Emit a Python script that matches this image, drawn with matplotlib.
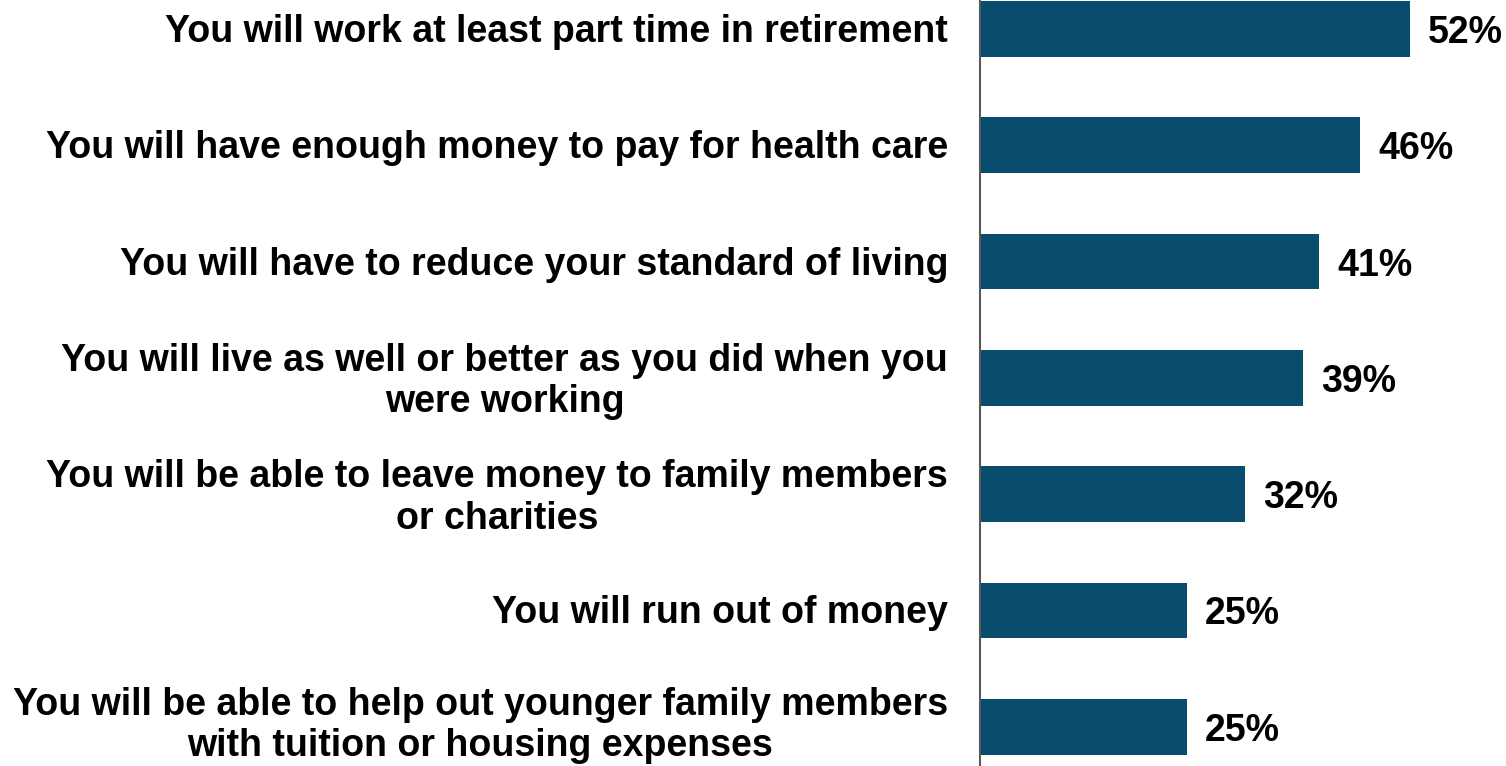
import matplotlib.pyplot as plt
from matplotlib.transforms import blended_transform_factory, ScaledTranslation

# --- data ---
labels = [
    "You will work at least part time in retirement",
    "You will have enough money to pay for health care",
    "You will have to reduce your standard of living",
    "You will live as well or better as you did when you\nwere working",
    "You will be able to leave money to family members\nor charities",
    "You will run out of money",
    "You will be able to help out younger family members\nwith tuition or housing expenses",
]
values = [52, 46, 41, 39, 32, 25, 25]

BAR_COLOR = "#084D6E"
plt.rcParams['font.family'] = ['Liberation Sans', 'DejaVu Sans']

fig = plt.figure(figsize=(15.06, 7.66), dpi=100)
ax = fig.add_axes([980 / 1506, 0, 526 / 1506, 1])

ypos = list(range(len(values)))
ax.barh(ypos, values, height=0.48, color=BAR_COLOR)

ax.set_ylim(6.337, -0.249)
ax.set_xlim(0, 63.6)

# small downward nudge so the numbers sit on the bar centres
down = ScaledTranslation(0, -4 / 100, fig.dpi_scale_trans)

# value labels at the bar ends
for y, v in zip(ypos, values):
    ax.text(v + 2.2, y, f"{v}%", va='center', ha='left',
            transform=ax.transData + down,
            fontsize=27, fontweight='bold')

# category labels, right aligned left of the axis line
base = blended_transform_factory(ax.transAxes, ax.transData)
for i, (y, lab) in enumerate(zip(ypos, labels)):
    if i == len(labels) - 1:
        dy = 8          # keep the descenders inside the figure
    elif "\n" in lab:
        dy = 3
    else:
        dy = 1
    tr = base + ScaledTranslation(-32 / 100, dy / 100, fig.dpi_scale_trans)
    ax.text(0, y, lab, transform=tr, ha='right', va='center_baseline',
            multialignment='center', linespacing=1.2,
            fontsize=27, fontweight='bold')

ax.set_xticks([])
ax.set_yticks([])

for s in ['top', 'right', 'bottom']:
    ax.spines[s].set_visible(False)
ax.spines['left'].set_color('#595959')
ax.spines['left'].set_linewidth(1.5)

fig.savefig("out.png", dpi=100)
